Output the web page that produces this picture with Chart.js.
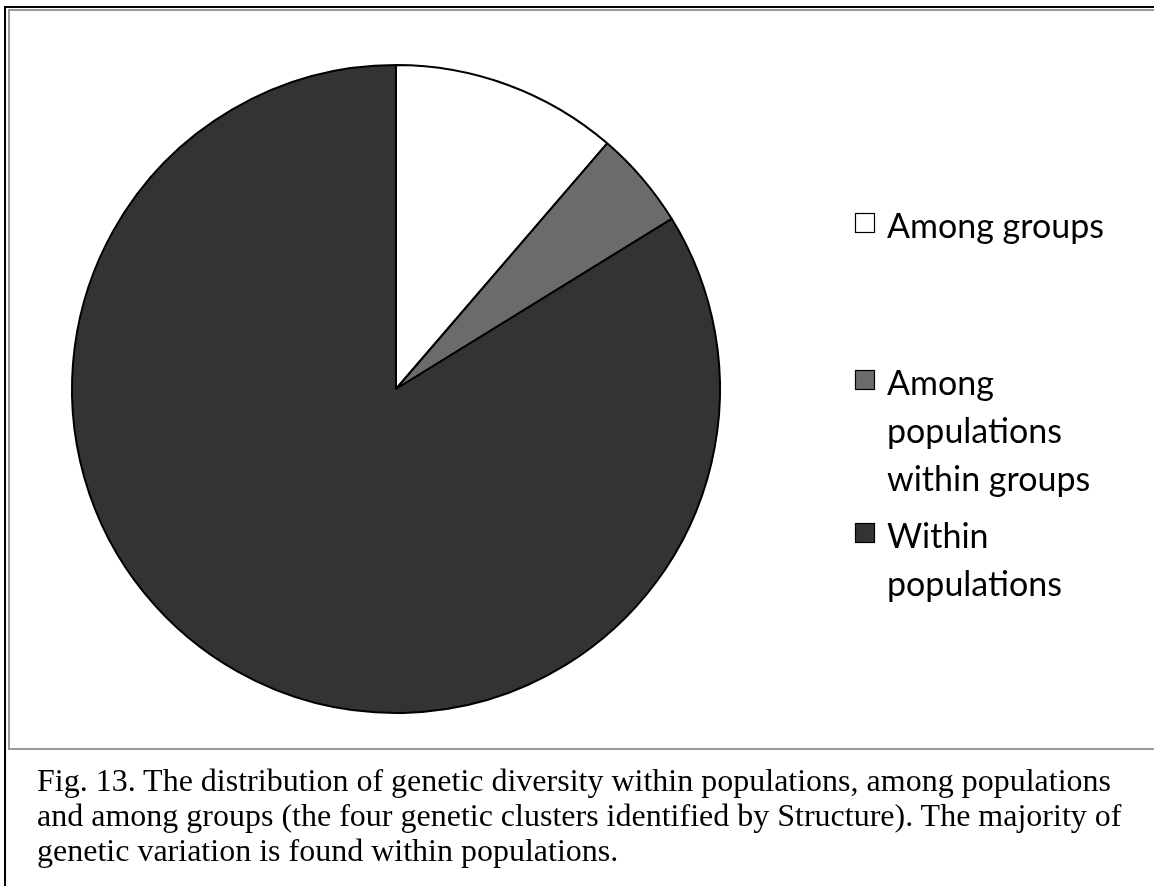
<!DOCTYPE html>
<html>
<head>
<meta charset="utf-8">
<script src="https://cdn.jsdelivr.net/npm/chart.js@4.4.1/dist/chart.umd.min.js"></script>
<style>
  html, body { margin: 0; padding: 0; background: #fff; width: 1154px; height: 886px; overflow: hidden; }
  #outer { position: absolute; left: 4px; top: 6px; width: 1200px; height: 950px;
           border-left: 2px solid #000; border-top: 2px solid #000; }
  #inner { position: absolute; left: 8px; top: 9px; width: 1200px; height: 737px;
           border-left: 2px solid #999; border-top: 2px solid #999; border-bottom: 2px solid #999; }
  #wrap { position: absolute; left: 0; top: 0; width: 1154px; height: 886px; }
  #caption { position: absolute; left: 37px; top: 763px; width: 1115px; white-space: nowrap;
             font-family: "Liberation Serif", "Times New Roman", serif; font-size: 32px;
             line-height: 35px; color: #000; }
</style>
</head>
<body>
<div id="outer"></div>
<div id="inner"></div>
<div id="wrap"><canvas id="chart" width="1154" height="886"></canvas></div>
<div id="caption">Fig. 13. The distribution of genetic diversity within populations, among populations<br>and among groups (the four genetic clusters identified by Structure). The majority of<br>genetic variation is found within populations.</div>
<script>
// Share of genetic variation (%) by hierarchical level (AMOVA)
const categories = ['Among groups', 'Among populations within groups', 'Within populations'];
const variationPct = [11.3, 4.9, 83.8];
// Legend wording, broken over lines as printed
const legendLines = [
  ['Among groups'],
  ['Among', 'populations', 'within groups'],
  ['Within', 'populations']
];
const sliceColors = ['#ffffff', '#6b6b6b', '#333333'];

// Legend drawn beside the pie, one block per category
const sideLegend = {
  id: 'sideLegend',
  afterDraw(chart, args, opts) {
    const ctx = chart.ctx;
    const ds = chart.data.datasets[0];
    ctx.save();
    ctx.font = opts.font;
    ctx.textBaseline = 'alphabetic';
    chart.data.labels.forEach((label, i) => {
      const base = opts.baselines[i];
      const boxTop = base - opts.boxRise;
      ctx.fillStyle = ds.backgroundColor[i];
      ctx.fillRect(opts.boxX, boxTop, opts.boxSize, opts.boxSize);
      ctx.strokeStyle = '#000';
      ctx.lineWidth = 1.2;
      ctx.strokeRect(opts.boxX + 0.5, boxTop + 0.5, opts.boxSize - 1, opts.boxSize - 1);
      ctx.fillStyle = '#000';
      legendLines[i].forEach((line, j) => {
        ctx.fillText(line, opts.textX, base + j * opts.lineHeight);
      });
    });
    ctx.restore();
  }
};

new Chart(document.getElementById('chart'), {
  type: 'pie',
  data: {
    labels: categories,
    datasets: [{
      data: variationPct,
      backgroundColor: sliceColors,
      borderColor: '#000',
      borderWidth: 2,
      hoverOffset: 0
    }]
  },
  options: {
    responsive: false,
    devicePixelRatio: 1,
    animation: false,
    events: [],
    layout: { padding: { left: 71, top: 64, right: 433, bottom: 172 } },
    plugins: {
      legend: { display: false },
      tooltip: { enabled: false },
      sideLegend: {
        font: '34px Lato, "Open Sans", sans-serif',
        baselines: [238, 395, 548],
        lineHeight: 48,
        boxX: 855,
        boxSize: 20,
        boxRise: 25,
        textX: 887
      }
    }
  },
  plugins: [sideLegend]
});
</script>
</body>
</html>
